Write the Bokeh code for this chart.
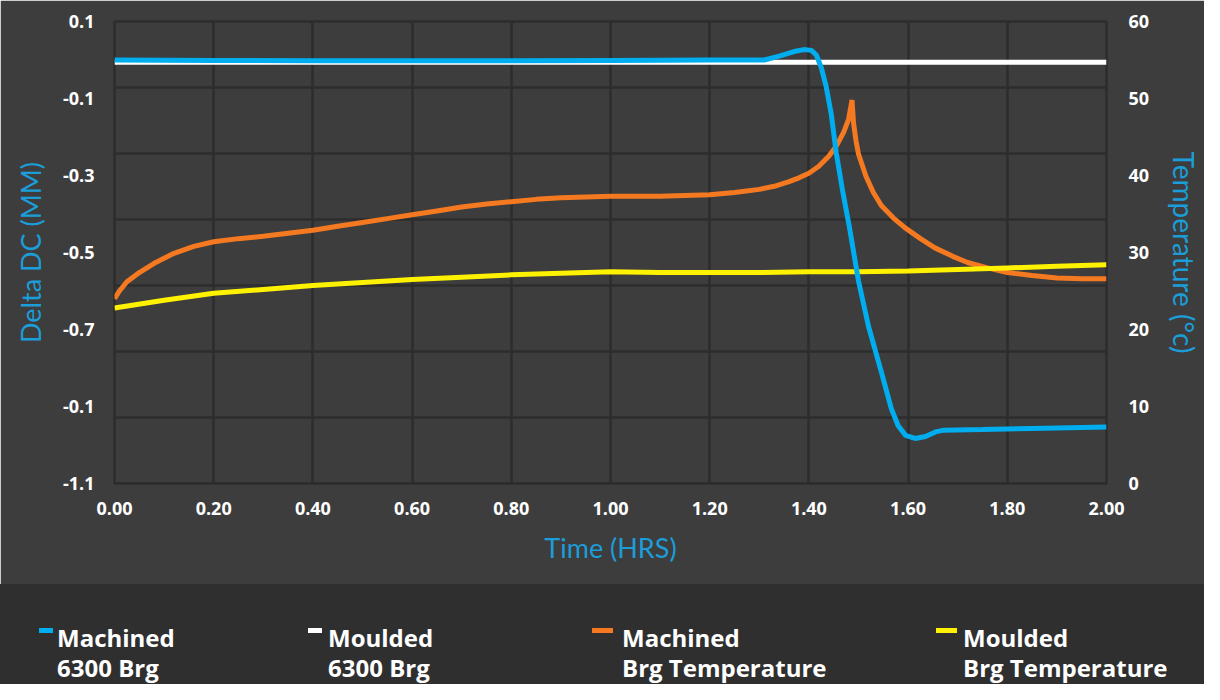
from bokeh.plotting import figure
from bokeh.models import Range1d, LinearAxis, FixedTicker, NumeralTickFormatter, Div
from bokeh.layouts import column
from bokeh.embed import file_html
from bokeh.resources import INLINE

# ---------------- data ----------------
time_ticks = [0.0, 0.2, 0.4, 0.6, 0.8, 1.0, 1.2, 1.4, 1.6, 1.8, 2.0]
delta_ticks = [0.1, -0.1, -0.3, -0.5, -0.7, -0.9, -1.1]
delta_tick_labels = ["0.1", "-0.1", "-0.3", "-0.5", "-0.7", "-0.1", "-1.1"]
temp_ticks = [0, 10, 20, 30, 40, 50, 60]

series_line1 = ["Machined", "Moulded", "Machined", "Moulded"]
series_line2 = ["6300 Brg", "6300 Brg", "Brg Temperature", "Brg Temperature"]

machined_t = [0.0, 0.2, 0.4, 0.6, 0.8, 1.0, 1.2, 1.31, 1.34, 1.37, 1.39, 1.405,
              1.415, 1.425, 1.435, 1.445, 1.455, 1.468, 1.481, 1.50, 1.52, 1.546,
              1.566, 1.58, 1.595, 1.614, 1.635, 1.655, 1.67, 1.75, 1.85, 2.0]
machined_dc = [0.0, -0.001, -0.002, -0.002, -0.002, -0.001, 0.0, 0.0, 0.010, 0.022,
               0.027, 0.025, 0.013, -0.020, -0.070, -0.140, -0.240, -0.340, -0.429,
               -0.574, -0.691, -0.810, -0.905, -0.950, -0.975, -0.983, -0.978,
               -0.966, -0.962, -0.960, -0.957, -0.953]

moulded_t = [0.0, 0.5, 1.0, 1.5, 2.0]
moulded_dc = [-0.006, -0.006, -0.006, -0.006, -0.006]

mach_temp_t = [0.0, 0.01, 0.025, 0.05, 0.08, 0.12, 0.16, 0.20, 0.25, 0.30, 0.35,
               0.40, 0.45, 0.50, 0.55, 0.60, 0.65, 0.70, 0.75, 0.80, 0.85, 0.90,
               0.95, 1.00, 1.05, 1.10, 1.15, 1.20, 1.25, 1.30, 1.33, 1.36, 1.38,
               1.40, 1.42, 1.44, 1.455, 1.47, 1.48, 1.487, 1.49, 1.495, 1.50,
               1.515, 1.53, 1.546, 1.57, 1.594, 1.625, 1.654, 1.69, 1.72, 1.76,
               1.80, 1.85, 1.90, 1.95, 2.00]
mach_temp = [24.0, 25.0, 26.2, 27.4, 28.6, 29.9, 30.8, 31.4, 31.8, 32.1, 32.5,
             32.9, 33.4, 33.9, 34.4, 34.9, 35.4, 35.9, 36.3, 36.6, 36.9, 37.1,
             37.2, 37.3, 37.3, 37.3, 37.4, 37.5, 37.8, 38.2, 38.6, 39.2, 39.7,
             40.3, 41.2, 42.5, 43.8, 45.6, 47.3, 49.8, 46.8, 44.5, 42.8,
             39.9, 37.8, 36.1, 34.5, 33.2, 31.8, 30.6, 29.5, 28.7, 28.0,
             27.4, 27.0, 26.7, 26.6, 26.6]

mould_temp_t = [0.0, 0.1, 0.2, 0.3, 0.4, 0.5, 0.6, 0.7, 0.8, 0.9, 1.0, 1.1, 1.2,
                1.3, 1.4, 1.5, 1.6, 1.7, 1.8, 1.9, 2.0]
mould_temp = [22.8, 23.8, 24.7, 25.2, 25.7, 26.1, 26.5, 26.8, 27.1, 27.3, 27.5,
              27.4, 27.4, 27.4, 27.5, 27.5, 27.6, 27.8, 28.0, 28.2, 28.4]

# ---------------- style ----------------
BG = "#3d3d3d"
LEG_BG = "#302f30"
GRID = "#2d2d2d"
TITLE_BLUE = "#1b9dd9"
BLUE = "#00aeef"
WHITE = "#ffffff"
ORANGE = "#f47920"
YELLOW = "#fff200"
series_colors = [BLUE, WHITE, ORANGE, YELLOW]

p = figure(width=1204, height=584, x_range=Range1d(0, 2), y_range=Range1d(-1.1, 0.1),
           output_backend="svg", toolbar_location=None,
           min_border_left=114, min_border_right=98, min_border_top=21,
           min_border_bottom=101)
p.background_fill_color = BG
p.border_fill_color = BG
p.outline_line_color = GRID
p.outline_line_width = 2.5

p.xgrid.ticker = FixedTicker(ticks=time_ticks)
grid_rows = [0.1 - i * 1.2 / 7 for i in range(8)]
p.ygrid.ticker = FixedTicker(ticks=grid_rows)
p.grid.grid_line_color = GRID
p.grid.grid_line_width = 2.5

p.extra_y_ranges = {"temp": Range1d(0, 60)}
right_axis = LinearAxis(y_range_name="temp", ticker=FixedTicker(ticks=temp_ticks),
                        axis_label="Temperature (°c)")
p.add_layout(right_axis, "right")

p.xaxis.ticker = FixedTicker(ticks=time_ticks)
p.xaxis.formatter = NumeralTickFormatter(format="0.00")
p.xaxis.axis_label = "Time (HRS)"
left_axis = p.yaxis[0]
left_axis.ticker = FixedTicker(ticks=delta_ticks)
left_axis.major_label_overrides = dict(zip(delta_ticks, delta_tick_labels))
left_axis.axis_label = "Delta DC (MM)"

for ax in [p.xaxis[0], left_axis, right_axis]:
    ax.axis_line_color = None
    ax.major_tick_line_color = None
    ax.minor_tick_line_color = None
    ax.major_label_text_color = "white"
    ax.major_label_text_font = "Open Sans"
    ax.major_label_text_font_style = "bold"
    ax.major_label_text_font_size = "18px"
    ax.axis_label_text_color = TITLE_BLUE
    ax.axis_label_text_font = "Lato"
    ax.axis_label_text_font_style = "normal"
    ax.axis_label_text_font_size = "27px"

right_axis.axis_label_text_font_size = "28px"
left_axis.major_label_standoff = 14
left_axis.axis_label_standoff = 13
right_axis.major_label_standoff = 16
right_axis.axis_label_standoff = 15
p.xaxis[0].major_label_standoff = 12
p.xaxis[0].axis_label_standoff = 13

p.line(mach_temp_t, mach_temp, y_range_name="temp", line_color=ORANGE, line_width=5)
p.line(mould_temp_t, mould_temp, y_range_name="temp", line_color=YELLOW, line_width=5)
p.line(moulded_t, moulded_dc, line_color=WHITE, line_width=5)
p.line(machined_t, machined_dc, line_color=BLUE, line_width=5)

# ---------------- legend band (HTML) ----------------
sw_left = [39, 308, 592, 936]
sw_width = [14, 14, 21, 21]
txt_x = [57, 328, 622, 963]

items = []
for i in range(4):
    items.append(
        f'<div style="position:absolute;left:{sw_left[i]}px;top:44px;'
        f'width:{sw_width[i]}px;height:5px;background:{series_colors[i]};"></div>'
        f'<div style="position:absolute;left:{txt_x[i]}px;top:39px;line-height:30px;'
        f'white-space:nowrap;">{series_line1[i]}<br>{series_line2[i]}</div>'
    )
legend_html = (
    '<div style="position:relative;width:1204px;height:100px;overflow:hidden;'
    f'background:{LEG_BG};font-family:\'Open Sans\',sans-serif;font-weight:bold;'
    'font-size:24px;color:#ffffff;">' + "".join(items) + '</div>'
)
legend_div = Div(text=legend_html, width=1204, height=100, margin=0)

layout = column(p, legend_div, spacing=0)
open("out.html", "w").write(file_html(layout, INLINE))
